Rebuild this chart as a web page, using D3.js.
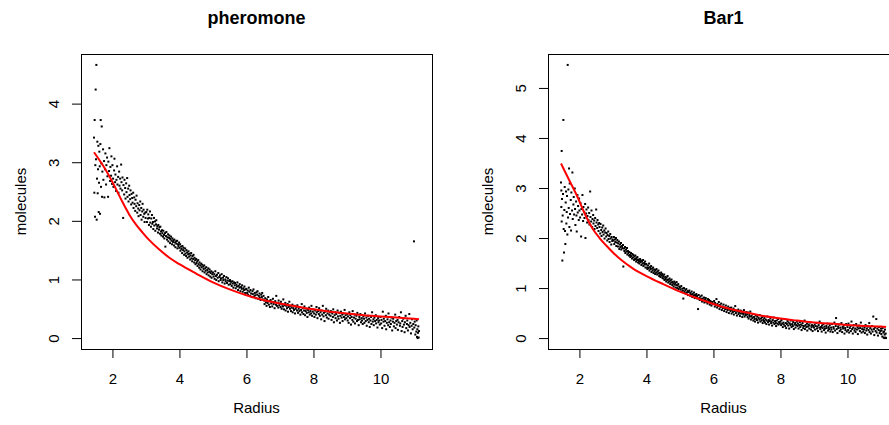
<!DOCTYPE html>
<html>
<head>
<meta charset="utf-8">
<script src="https://cdn.jsdelivr.net/npm/d3@7"></script>
<style>
  body { margin: 0; background: #fff; }
  svg { display: block; font-family: "Liberation Sans", Arial, Helvetica, sans-serif; }
</style>
</head>
<body>
<div id="chart"></div>
<script>
/* Two R-style scatter panels: molecules vs Radius, with a red fitted curve. */

// pheromone: [radius, molecules]
const pheroPts = [
  [1.45,3.42],[1.46,2.48],[1.47,3.72],[1.48,2.07],[1.49,2.95],[1.50,4.24],[1.51,3.05],[1.52,4.66],[1.53,2.02],[1.54,2.72],[1.55,3.35],[1.56,2.47],[1.57,2.88],[1.58,3.28],[1.59,2.15],[1.60,2.65],[1.61,3.18],[1.62,2.93],[1.63,2.12],[1.64,3.31],[1.65,3.72],[1.66,2.58],[1.67,2.98],[1.68,3.61],[1.69,2.41],[1.70,2.84],
  [1.72,3.22],[1.73,2.70],[1.75,3.02],[1.76,2.40],[1.78,2.88],[1.79,3.15],[1.81,2.62],[1.82,2.95],[1.84,3.08],[1.85,2.76],[1.87,2.41],[1.88,3.01],[1.90,2.85],[1.91,3.24],[1.93,2.68],[1.94,2.92],[1.96,2.77],[1.97,3.10],[1.99,2.63],
  [2.00,2.95],[2.02,2.72],[2.03,2.58],[2.05,2.86],[2.06,3.06],[2.08,2.66],[2.09,2.79],[2.11,2.51],[2.12,2.70],[2.14,2.93],[2.15,2.62],[2.17,2.75],[2.18,2.48],[2.20,2.84],[2.21,2.60],[2.23,2.72],[2.24,2.55],[2.26,2.96],[2.27,2.66],[2.29,2.52],
  [2.30,2.74],[2.32,2.05],[2.33,2.61],[2.35,2.45],[2.36,2.70],[2.38,2.56],[2.39,2.38],[2.41,2.64],[2.42,2.49],[2.44,2.73],[2.45,2.41],[2.47,2.55],[2.48,2.33],[2.50,2.60],[2.51,2.44],[2.53,2.37],[2.54,2.52],[2.56,2.28],[2.57,2.46],[2.59,2.39],
  [2.60,2.31],[2.62,2.48],[2.63,2.22],[2.65,2.40],[2.66,2.29],[2.68,2.17],[2.69,2.36],[2.71,2.25],[2.72,2.43],[2.74,2.14],[2.75,2.30],[2.77,2.21],[2.78,2.08],[2.80,2.27],[2.81,2.18],[2.83,2.33],[2.84,2.10],[2.86,2.22],[2.87,2.02],[2.89,2.16],[2.90,2.29],[2.92,2.07],[2.93,2.19],[2.95,2.12],[2.96,1.98],[2.98,2.14],[2.99,2.05],
  [3.01,2.15],[3.03,1.98],[3.04,2.19],[3.06,2.04],[3.07,2.11],[3.09,1.93],[3.10,2.05],[3.12,2.16],[3.13,1.97],[3.15,1.90],[3.16,2.04],[3.18,2.10],[3.19,1.95],[3.21,1.98],[3.22,1.86],[3.24,2.05],[3.25,1.92],[3.27,1.99],[3.28,1.83],[3.30,1.94],[3.31,2.01],[3.33,1.87],[3.34,1.91],[3.36,1.80],[3.37,1.93],[3.39,1.85],[3.40,1.89],[3.42,1.78],[3.43,1.90],[3.45,1.82],[3.46,1.75],[3.48,1.84],
  [3.49,1.79],[3.51,1.73],[3.52,1.83],[3.54,1.76],[3.55,1.70],[3.57,1.79],[3.58,1.56],[3.60,1.74],[3.61,1.81],[3.63,1.68],[3.64,1.72],[3.66,1.77],[3.67,1.65],[3.69,1.71],[3.70,1.75],[3.72,1.62],[3.73,1.69],[3.75,1.73],[3.76,1.66],[3.78,1.60],[3.79,1.70],[3.81,1.64],[3.82,1.67],[3.84,1.58],[3.85,1.68],[3.87,1.63],[3.88,1.55],[3.90,1.65],[3.91,1.61],[3.93,1.66],[3.94,1.53],[3.96,1.60],[3.97,1.57],[3.99,1.63],
  [4.00,1.54],[4.02,1.60],[4.03,1.49],[4.05,1.56],[4.06,1.52],[4.08,1.45],[4.09,1.57],[4.11,1.50],[4.12,1.54],[4.14,1.42],[4.15,1.48],[4.17,1.53],[4.18,1.44],[4.20,1.40],[4.21,1.50],[4.23,1.46],[4.24,1.37],[4.26,1.43],[4.27,1.48],[4.29,1.39],[4.30,1.44],[4.32,1.34],[4.33,1.41],[4.35,1.45],[4.36,1.36],[4.38,1.31],[4.39,1.40],[4.41,1.35],[4.42,1.42],[4.44,1.29],[4.45,1.37],[4.47,1.33],[4.48,1.26],
  [4.50,1.35],[4.51,1.28],[4.53,1.31],[4.54,1.23],[4.56,1.33],[4.57,1.26],[4.59,1.20],[4.60,1.29],[4.62,1.24],[4.63,1.17],[4.65,1.27],[4.66,1.21],[4.68,1.25],[4.69,1.14],[4.71,1.22],[4.72,1.18],[4.74,1.24],[4.75,1.12],[4.77,1.19],[4.78,1.15],[4.80,1.21],[4.81,1.09],[4.83,1.16],[4.84,1.12],[4.86,1.19],[4.87,1.07],[4.89,1.13],[4.90,1.17],[4.92,1.05],[4.93,1.11],[4.95,1.14],[4.96,1.03],[4.98,1.09],
  [5.00,1.12],[5.02,1.05],[5.04,1.09],[5.05,1.01],[5.07,1.14],[5.09,1.06],[5.10,0.99],[5.12,1.08],[5.14,1.03],[5.16,1.11],[5.17,0.97],[5.19,1.04],[5.21,1.07],[5.23,0.99],[5.24,1.02],[5.26,1.09],[5.28,0.95],[5.30,1.03],[5.31,0.99],[5.33,1.06],[5.35,0.93],[5.37,1.00],[5.38,0.97],[5.40,1.04],[5.42,0.94],[5.44,0.98],[5.45,1.02],[5.47,0.91],[5.49,0.97],
  [5.51,0.99],[5.52,0.92],[5.54,0.96],[5.56,0.89],[5.58,0.97],[5.59,0.93],[5.61,0.86],[5.63,0.95],[5.65,0.90],[5.66,0.94],[5.68,0.85],[5.70,0.91],[5.72,0.88],[5.73,0.95],[5.75,0.82],[5.77,0.89],[5.79,0.86],[5.80,0.92],[5.82,0.80],[5.84,0.87],[5.86,0.84],[5.87,0.90],[5.89,0.79],[5.91,0.85],[5.93,0.82],[5.94,0.88],[5.96,0.77],[5.98,0.83],
  [6.00,0.84],[6.02,0.77],[6.04,0.81],[6.05,0.74],[6.07,0.86],[6.09,0.79],[6.11,0.72],[6.12,0.82],[6.14,0.76],[6.16,0.70],[6.18,0.80],[6.19,0.75],[6.21,0.83],[6.23,0.71],[6.25,0.77],[6.26,0.73],[6.28,0.68],[6.30,0.78],[6.32,0.74],[6.33,0.80],[6.35,0.67],[6.37,0.72],[6.39,0.76],[6.40,0.69],[6.42,0.65],[6.44,0.74],[6.46,0.70],[6.47,0.77],[6.49,0.66],
  [6.51,0.72],[6.53,0.64],[6.54,0.58],[6.56,0.68],[6.58,0.61],[6.60,0.55],[6.61,0.66],[6.63,0.60],[6.65,0.70],[6.67,0.57],[6.68,0.63],[6.70,0.53],[6.72,0.65],[6.74,0.59],[6.75,0.62],[6.77,0.54],[6.79,0.67],[6.81,0.58],[6.82,0.61],[6.84,0.51],[6.86,0.63],[6.88,0.57],[6.89,0.72],[6.91,0.55],[6.93,0.60],[6.95,0.52],[6.96,0.64],[6.98,0.56],
  [7.00,0.59],[7.02,0.53],[7.03,0.62],[7.05,0.50],[7.07,0.57],[7.09,0.54],[7.10,0.66],[7.12,0.49],[7.14,0.56],[7.16,0.60],[7.17,0.47],[7.19,0.55],[7.21,0.51],[7.23,0.58],[7.24,0.45],[7.26,0.53],[7.28,0.62],[7.30,0.50],[7.31,0.55],[7.33,0.46],[7.35,0.52],[7.37,0.57],[7.38,0.44],[7.40,0.51],[7.42,0.48],[7.44,0.55],[7.45,0.42],[7.47,0.50],[7.49,0.53],
  [7.51,0.47],[7.52,0.56],[7.54,0.43],[7.56,0.50],[7.58,0.46],[7.59,0.53],[7.61,0.40],[7.63,0.48],[7.65,0.58],[7.66,0.44],[7.68,0.51],[7.70,0.41],[7.72,0.47],[7.73,0.54],[7.75,0.39],[7.77,0.46],[7.79,0.50],[7.80,0.43],[7.82,0.36],[7.84,0.48],[7.86,0.44],[7.87,0.52],[7.89,0.40],[7.91,0.46],[7.93,0.42],[7.94,0.55],[7.96,0.38],[7.98,0.45],
  [8.00,0.49],[8.02,0.42],[8.03,0.36],[8.05,0.47],[8.07,0.40],[8.09,0.53],[8.10,0.44],[8.12,0.34],[8.14,0.46],[8.16,0.41],[8.17,0.51],[8.19,0.38],[8.21,0.44],[8.23,0.32],[8.24,0.47],[8.26,0.40],[8.28,0.55],[8.30,0.37],[8.31,0.43],[8.33,0.29],[8.35,0.45],[8.37,0.39],[8.38,0.50],[8.40,0.35],[8.42,0.42],[8.44,0.47],[8.45,0.33],[8.47,0.40],[8.49,0.44],
  [8.51,0.38],[8.52,0.46],[8.54,0.31],[8.56,0.42],[8.58,0.36],[8.59,0.49],[8.61,0.27],[8.63,0.39],[8.65,0.44],[8.66,0.34],[8.68,0.41],[8.70,0.30],[8.72,0.47],[8.73,0.37],[8.75,0.33],[8.77,0.43],[8.79,0.26],[8.80,0.38],[8.82,0.45],[8.84,0.35],[8.86,0.40],[8.87,0.29],[8.89,0.42],[8.91,0.36],[8.93,0.48],[8.94,0.32],[8.96,0.39],[8.98,0.34],
  [9.00,0.41],[9.02,0.30],[9.03,0.37],[9.05,0.26],[9.07,0.44],[9.09,0.34],[9.10,0.39],[9.12,0.23],[9.14,0.36],[9.16,0.31],[9.17,0.46],[9.19,0.28],[9.21,0.35],[9.23,0.40],[9.24,0.25],[9.26,0.33],[9.28,0.38],[9.30,0.29],[9.31,0.43],[9.33,0.31],[9.35,0.22],[9.37,0.36],[9.38,0.32],[9.40,0.41],[9.42,0.27],[9.44,0.34],[9.45,0.30],[9.47,0.24],[9.49,0.37],
  [9.51,0.33],[9.52,0.26],[9.54,0.42],[9.56,0.29],[9.58,0.35],[9.59,0.21],[9.61,0.31],[9.63,0.38],[9.65,0.27],[9.66,0.33],[9.68,0.19],[9.70,0.30],[9.72,0.36],[9.73,0.24],[9.75,0.44],[9.77,0.28],[9.79,0.32],[9.80,0.22],[9.82,0.35],[9.84,0.29],[9.86,0.39],[9.87,0.25],[9.89,0.31],[9.91,0.18],[9.93,0.34],[9.94,0.27],[9.96,0.30],[9.98,0.23],
  [10.00,0.36],[10.02,0.25],[10.03,0.31],[10.05,0.17],[10.07,0.45],[10.09,0.28],[10.10,0.33],[10.12,0.21],[10.14,0.29],[10.16,0.38],[10.17,0.15],[10.19,0.26],[10.21,0.32],[10.23,0.22],[10.24,0.42],[10.26,0.27],[10.28,0.19],[10.30,0.30],[10.31,0.24],[10.33,0.35],[10.35,0.13],[10.37,0.28],[10.38,0.33],[10.40,0.20],[10.42,0.26],[10.44,0.40],[10.45,0.17],[10.47,0.29],[10.49,0.23],
  [10.51,0.31],[10.52,0.14],[10.54,0.27],[10.56,0.36],[10.58,0.21],[10.59,0.25],[10.61,0.44],[10.63,0.12],[10.65,0.29],[10.66,0.19],[10.68,0.33],[10.70,0.23],[10.72,0.10],[10.73,0.27],[10.75,0.38],[10.77,0.17],[10.79,0.24],[10.80,0.30],[10.82,0.13],[10.84,0.22],[10.86,0.41],[10.87,0.19],[10.89,0.26],[10.91,0.08],[10.93,0.21],[10.94,0.32],[10.96,0.15],[10.98,0.24],
  [11.00,1.65],[11.01,0.18],[11.02,0.28],[11.04,0.06],[11.05,0.22],[11.07,0.11],[11.08,0.30],[11.09,0.02],[11.10,0.15],[11.11,0.00],[11.12,0.09],[11.13,0.20],[11.14,0.01],[11.15,0.12]
];

// pheromone fitted curve
const pheroFit = [
  [1.45,3.17],[1.7,2.96],[1.9,2.77],[2.1,2.55],[2.3,2.32],[2.5,2.11],[2.7,1.94],[2.9,1.80],[3.1,1.67],[3.4,1.51],[3.7,1.37],[4.0,1.26],[4.5,1.10],
  [5.0,0.95],[5.5,0.83],[6.0,0.73],[6.5,0.65],[7.0,0.59],[7.5,0.54],[8.0,0.49],[8.5,0.45],[9.0,0.42],[9.5,0.39],[10.0,0.37],[10.5,0.35],[11.0,0.33],[11.15,0.32]
];

// Bar1: [radius, molecules]
const bar1Pts = [
  [1.45,3.11],[1.46,2.62],[1.46,2.95],[1.47,2.33],[1.47,3.74],[1.48,2.78],[1.49,1.55],[1.50,2.45],[1.51,2.88],[1.52,4.36],[1.53,2.18],[1.54,1.71],[1.55,2.56],[1.56,3.02],[1.57,2.14],[1.58,1.88],[1.59,2.71],[1.60,2.93],[1.61,2.29],[1.62,2.52],[1.63,2.84],[1.64,2.07],[1.65,5.46],[1.66,2.41],[1.67,2.97],[1.68,2.60],[1.69,3.39],[1.70,2.22],
  [1.71,3.09],[1.72,2.48],[1.74,2.76],[1.75,2.15],[1.76,2.91],[1.78,2.55],[1.79,3.31],[1.80,2.38],[1.82,2.67],[1.83,2.82],[1.84,2.47],[1.86,2.99],[1.87,2.58],[1.88,2.26],[1.90,2.73],[1.91,2.45],[1.92,2.13],[1.94,2.86],[1.95,2.51],[1.96,2.64],[1.98,2.36],[1.99,2.79],
  [2.00,2.55],[2.02,2.41],[2.03,2.70],[2.05,2.03],[2.06,2.58],[2.08,2.47],[2.09,2.86],[2.11,2.34],[2.12,2.62],[2.14,2.52],[2.15,2.40],[2.17,2.68],[2.18,2.00],[2.20,2.49],[2.21,2.57],[2.23,2.31],[2.24,2.44],[2.26,2.61],[2.27,2.36],[2.29,2.50],[2.30,2.27],[2.32,2.93],[2.33,2.42],[2.35,2.33],[2.36,2.55],[2.38,2.22],[2.39,2.38],
  [2.41,2.46],[2.42,2.29],[2.44,2.35],[2.45,2.18],[2.47,2.40],[2.48,2.24],[2.50,2.57],[2.51,2.31],[2.53,2.20],[2.54,2.36],[2.56,2.27],[2.57,2.14],[2.59,2.30],
  [2.60,2.22],[2.62,2.09],[2.63,2.28],[2.65,2.16],[2.66,2.04],[2.68,2.21],[2.69,2.12],[2.71,2.25],[2.72,2.07],[2.74,2.15],[2.75,1.99],[2.77,2.11],[2.78,2.19],[2.80,2.03],[2.81,2.10],[2.83,1.95],[2.84,2.06],[2.86,2.13],[2.87,1.98],[2.89,2.04],[2.90,1.92],[2.92,2.08],[2.93,1.99],[2.95,1.87],[2.96,2.02],[2.98,1.94],[2.99,1.97],
  [3.01,1.95],[3.03,2.02],[3.04,1.88],[3.06,1.97],[3.07,1.92],[3.09,2.00],[3.10,1.84],[3.12,1.91],[3.13,1.96],[3.15,1.83],[3.16,1.89],[3.18,1.93],[3.19,1.78],[3.21,1.87],[3.22,1.82],[3.24,1.90],[3.25,1.77],[3.27,1.84],[3.28,1.80],[3.30,1.86],[3.31,1.43],[3.33,1.79],[3.34,1.74],[3.36,1.82],[3.37,1.70],[3.39,1.77],[3.40,1.73],[3.42,1.80],[3.43,1.67],[3.45,1.74],[3.46,1.70],[3.48,1.65],
  [3.49,1.72],[3.51,1.66],[3.52,1.62],[3.54,1.70],[3.55,1.64],[3.57,1.59],[3.58,1.68],[3.60,1.61],[3.61,1.66],[3.63,1.56],[3.64,1.63],[3.66,1.58],[3.67,1.65],[3.69,1.53],[3.70,1.60],[3.72,1.56],[3.73,1.62],[3.75,1.51],[3.76,1.57],[3.78,1.54],[3.79,1.49],[3.81,1.58],[3.82,1.52],[3.84,1.55],[3.85,1.46],[3.87,1.53],[3.88,1.49],[3.90,1.56],[3.91,1.44],[3.93,1.50],[3.94,1.47],[3.96,1.53],[3.97,1.41],[3.99,1.48],
  [4.00,1.47],[4.02,1.41],[4.03,1.38],[4.05,1.45],[4.06,1.40],[4.08,1.49],[4.09,1.35],[4.11,1.42],[4.12,1.38],[4.14,1.44],[4.15,1.32],[4.17,1.39],[4.18,1.35],[4.20,1.41],[4.21,1.30],[4.23,1.37],[4.24,1.33],[4.26,1.28],[4.27,1.36],[4.29,1.31],[4.30,1.38],[4.32,1.27],[4.33,1.33],[4.35,1.29],[4.36,1.35],[4.38,1.24],[4.39,1.30],[4.41,1.27],[4.42,1.22],[4.44,1.31],[4.45,1.25],[4.47,1.28],[4.48,1.20],
  [4.50,1.24],[4.51,1.19],[4.53,1.27],[4.54,1.16],[4.56,1.22],[4.57,1.18],[4.59,1.13],[4.60,1.21],[4.62,1.16],[4.63,1.24],[4.65,1.11],[4.66,1.17],[4.68,1.13],[4.69,1.19],[4.71,1.08],[4.72,1.15],[4.74,1.11],[4.75,1.17],[4.77,1.06],[4.78,1.12],[4.80,1.09],[4.81,1.03],[4.83,1.13],[4.84,1.07],[4.86,1.10],[4.87,1.01],[4.89,1.06],[4.90,1.12],[4.92,1.00],[4.93,1.05],[4.95,1.08],[4.96,0.98],[4.98,1.03],
  [5.00,1.01],[5.02,0.97],[5.04,1.04],[5.05,0.93],[5.07,0.99],[5.09,0.95],[5.10,0.79],[5.12,1.00],[5.14,0.92],[5.16,0.96],[5.17,0.89],[5.19,0.98],[5.21,0.91],[5.23,0.94],[5.24,0.86],[5.26,0.92],[5.28,0.95],[5.30,0.85],[5.31,0.90],[5.33,0.87],[5.35,0.93],[5.37,0.82],[5.38,0.88],[5.40,0.85],[5.42,0.91],[5.44,0.80],[5.45,0.86],[5.47,0.83],[5.49,0.88],
  [5.51,0.84],[5.52,0.79],[5.54,0.58],[5.56,0.86],[5.58,0.80],[5.59,0.76],[5.61,0.83],[5.63,0.78],[5.65,0.85],[5.66,0.73],[5.68,0.79],[5.70,0.75],[5.72,0.81],[5.73,0.71],[5.75,0.77],[5.77,0.80],[5.79,0.72],[5.80,0.75],[5.82,0.69],[5.84,0.78],[5.86,0.73],[5.87,0.76],[5.89,0.67],[5.91,0.74],[5.93,0.70],[5.94,0.65],[5.96,0.72],[5.98,0.68],
  [6.00,0.69],[6.02,0.74],[6.04,0.63],[6.05,0.70],[6.07,0.66],[6.09,0.78],[6.11,0.61],[6.12,0.68],[6.14,0.64],[6.16,0.72],[6.18,0.58],[6.19,0.66],[6.21,0.62],[6.23,0.69],[6.25,0.56],[6.26,0.63],[6.28,0.60],[6.30,0.67],[6.32,0.54],[6.33,0.61],[6.35,0.58],[6.37,0.65],[6.39,0.52],[6.40,0.59],[6.42,0.56],[6.44,0.63],[6.46,0.50],[6.47,0.57],[6.49,0.60],
  [6.51,0.54],[6.53,0.61],[6.54,0.49],[6.56,0.56],[6.58,0.52],[6.60,0.59],[6.61,0.47],[6.63,0.54],[6.65,0.64],[6.67,0.50],[6.68,0.55],[6.70,0.45],[6.72,0.53],[6.74,0.57],[6.75,0.48],[6.77,0.51],[6.79,0.44],[6.81,0.55],[6.82,0.49],[6.84,0.53],[6.86,0.42],[6.88,0.50],[6.89,0.47],[6.91,0.56],[6.93,0.43],[6.95,0.49],[6.96,0.46],[6.98,0.52],
  [7.00,0.47],[7.02,0.42],[7.03,0.51],[7.05,0.39],[7.07,0.46],[7.09,0.43],[7.10,0.53],[7.12,0.37],[7.14,0.44],[7.16,0.40],[7.17,0.48],[7.19,0.35],[7.21,0.42],[7.23,0.38],[7.24,0.33],[7.26,0.45],[7.28,0.39],[7.30,0.36],[7.31,0.43],[7.33,0.31],[7.35,0.40],[7.37,0.37],[7.38,0.46],[7.40,0.33],[7.42,0.39],[7.44,0.35],[7.45,0.42],[7.47,0.30],[7.49,0.37],
  [7.51,0.34],[7.52,0.40],[7.54,0.31],[7.56,0.37],[7.58,0.28],[7.59,0.35],[7.61,0.43],[7.63,0.32],[7.65,0.36],[7.66,0.27],[7.68,0.34],[7.70,0.39],[7.72,0.30],[7.73,0.33],[7.75,0.25],[7.77,0.36],[7.79,0.31],[7.80,0.41],[7.82,0.28],[7.84,0.34],[7.86,0.30],[7.87,0.24],[7.89,0.35],[7.91,0.29],[7.93,0.38],[7.94,0.27],[7.96,0.32],[7.98,0.29],
  [8.00,0.33],[8.02,0.26],[8.03,0.36],[8.05,0.29],[8.07,0.22],[8.09,0.31],[8.10,0.27],[8.12,0.38],[8.14,0.24],[8.16,0.30],[8.17,0.20],[8.19,0.28],[8.21,0.34],[8.23,0.25],[8.24,0.31],[8.26,0.19],[8.28,0.29],[8.30,0.26],[8.31,0.35],[8.33,0.22],[8.35,0.28],[8.37,0.24],[8.38,0.32],[8.40,0.18],[8.42,0.27],[8.44,0.30],[8.45,0.21],[8.47,0.26],[8.49,0.33],
  [8.51,0.24],[8.52,0.29],[8.54,0.19],[8.56,0.26],[8.58,0.32],[8.59,0.22],[8.61,0.27],[8.63,0.16],[8.65,0.25],[8.66,0.30],[8.68,0.20],[8.70,0.24],[8.72,0.35],[8.73,0.18],[8.75,0.26],[8.77,0.22],[8.79,0.29],[8.80,0.15],[8.82,0.23],[8.84,0.27],[8.86,0.19],[8.87,0.25],[8.89,0.31],[8.91,0.17],[8.93,0.22],[8.94,0.26],[8.96,0.14],[8.98,0.24],
  [9.00,0.21],[9.02,0.27],[9.03,0.17],[9.05,0.24],[9.07,0.30],[9.09,0.19],[9.10,0.23],[9.12,0.14],[9.14,0.26],[9.16,0.21],[9.17,0.33],[9.19,0.18],[9.21,0.22],[9.23,0.13],[9.24,0.25],[9.26,0.20],[9.28,0.28],[9.30,0.16],[9.31,0.23],[9.33,0.19],[9.35,0.11],[9.37,0.24],[9.38,0.20],[9.40,0.29],[9.42,0.15],[9.44,0.22],[9.45,0.18],[9.47,0.26],[9.49,0.13],
  [9.51,0.21],[9.52,0.17],[9.54,0.28],[9.56,0.12],[9.58,0.22],[9.59,0.19],[9.61,0.31],[9.63,0.15],[9.65,0.24],[9.66,0.40],[9.68,0.18],[9.70,0.10],[9.72,0.23],[9.73,0.20],[9.75,0.27],[9.77,0.14],[9.79,0.21],[9.80,0.17],[9.82,0.30],[9.84,0.12],[9.86,0.22],[9.87,0.19],[9.89,0.25],[9.91,0.09],[9.93,0.20],[9.94,0.16],[9.96,0.28],[9.98,0.13],
  [10.00,0.22],[10.02,0.16],[10.03,0.29],[10.05,0.11],[10.07,0.20],[10.09,0.24],[10.10,0.14],[10.12,0.33],[10.14,0.18],[10.16,0.09],[10.17,0.21],[10.19,0.26],[10.21,0.15],[10.23,0.19],[10.24,0.12],[10.26,0.28],[10.28,0.17],[10.30,0.22],[10.31,0.08],[10.33,0.19],[10.35,0.25],[10.37,0.14],[10.38,0.20],[10.40,0.31],[10.42,0.11],[10.44,0.18],[10.45,0.23],[10.47,0.13],[10.49,0.17],
  [10.51,0.21],[10.52,0.10],[10.54,0.26],[10.56,0.15],[10.58,0.19],[10.59,0.07],[10.61,0.23],[10.63,0.16],[10.65,0.30],[10.66,0.12],[10.68,0.20],[10.70,0.09],[10.72,0.17],[10.73,0.24],[10.75,0.13],[10.77,0.43],[10.79,0.18],[10.80,0.06],[10.82,0.21],[10.84,0.14],[10.86,0.38],[10.87,0.11],[10.89,0.19],[10.91,0.05],[10.93,0.16],[10.94,0.22],[10.96,0.10],[10.98,0.14],
  [11.00,0.19],[11.01,0.08],[11.02,0.15],[11.04,0.03],[11.05,0.20],[11.07,0.11],[11.08,0.01],[11.09,0.13],[11.10,0.00],[11.11,0.07],[11.12,0.17],[11.13,0.01],[11.14,0.09],[11.15,0.00]
];

// Bar1 fitted curve
const bar1Fit = [
  [1.45,3.49],[1.7,3.15],[1.95,2.81],[2.15,2.50],[2.4,2.18],[2.6,2.00],[2.8,1.85],[3.0,1.71],[3.25,1.56],[3.6,1.39],[4.0,1.24],[4.5,1.08],
  [5.0,0.93],[5.5,0.80],[6.0,0.68],[6.5,0.58],[7.0,0.51],[7.5,0.44],[8.0,0.39],[8.5,0.35],[9.0,0.31],[9.5,0.29],[10.0,0.26],[10.5,0.24],[11.0,0.23],[11.15,0.22]
];

const xTicks = [2, 4, 6, 8, 10];
const pheroYTicks = [0, 1, 2, 3, 4];
const bar1YTicks = [0, 1, 2, 3, 4, 5];

const W = 889, H = 425;
const BOX = { top: 54, bottom: 349, width: 351 };

const svg = d3.select("#chart").append("svg")
    .attr("width", W).attr("height", H);

// R pads the data range by 4% on each side
function padded(ext){
  const r = ext[1] - ext[0];
  return [ext[0] - 0.04 * r, ext[1] + 0.04 * r];
}

function drawPanel(left, title, pts, fit, yTicks){
  const w = BOX.width, h = BOX.bottom - BOX.top;
  const g = svg.append("g").attr("transform", `translate(${left},${BOX.top})`);

  const x = d3.scaleLinear().domain(padded(d3.extent(pts, d => d[0]))).range([0, w]);
  const y = d3.scaleLinear().domain(padded(d3.extent(pts, d => d[1]))).range([h, 0]);

  // points (pch=".")
  g.selectAll("rect.pt").data(pts).join("rect").attr("class", "pt")
      .attr("x", d => x(d[0]) - 1).attr("y", d => y(d[1]) - 1)
      .attr("width", 2).attr("height", 2).attr("fill", "#000");

  g.append("path").datum(fit)
      .attr("d", d3.line().x(d => x(d[0])).y(d => y(d[1])).curve(d3.curveMonotoneX))
      .attr("fill", "none").attr("stroke", "#ff0000").attr("stroke-width", 2);

  g.append("rect").attr("x", 0.5).attr("y", 0.5).attr("width", w).attr("height", h)
      .attr("fill", "none").attr("stroke", "#000");

  const xa = g.append("g").attr("transform", `translate(0,${h})`)
      .call(d3.axisBottom(x).tickValues(xTicks).tickFormat(d3.format("d"))
        .tickSize(9).tickPadding(15).tickSizeOuter(0));
  const ya = g.append("g")
      .call(d3.axisLeft(y).tickValues(yTicks).tickFormat(d3.format("d"))
        .tickSize(9).tickSizeOuter(0));
  [xa, ya].forEach(a => {
    a.attr("font-size", 15).attr("font-family", null);
    a.select(".domain").remove();
  });
  // y labels parallel to the axis
  ya.selectAll(".tick text").attr("x", null).attr("dy", null)
      .attr("text-anchor", "middle").attr("transform", "translate(-22,0) rotate(-90)");

  svg.append("text").attr("x", left + w / 2).attr("y", 23.5)
      .attr("text-anchor", "middle").attr("font-size", 18).attr("font-weight", "bold")
      .text(title);
  svg.append("text").attr("x", left + w / 2).attr("y", 413)
      .attr("text-anchor", "middle").attr("font-size", 15).text("Radius");
  svg.append("text").attr("transform", `translate(${left - 55},${BOX.top + h / 2}) rotate(-90)`)
      .attr("text-anchor", "middle").attr("font-size", 15).text("molecules");
}

drawPanel(81, "pheromone", pheroPts, pheroFit, pheroYTicks);
drawPanel(548, "Bar1", bar1Pts, bar1Fit, bar1YTicks);
</script>
</body>
</html>
